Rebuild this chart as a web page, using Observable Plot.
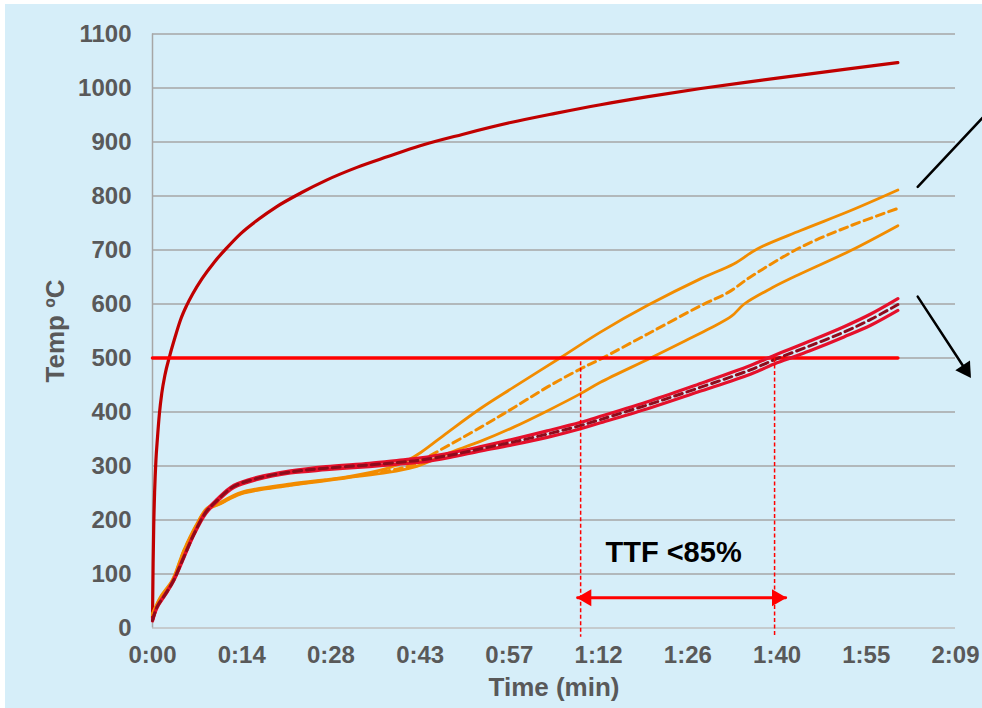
<!DOCTYPE html>
<html><head><meta charset="utf-8">
<script src="https://cdn.jsdelivr.net/npm/d3@7"></script>
<script src="https://cdn.jsdelivr.net/npm/@observablehq/plot@0.6"></script>
<style>
html,body{margin:0;padding:0;background:#fff;}
#chart{position:absolute;left:5px;top:4px;width:977px;height:704px;}
</style></head><body><div id="chart"></div>
<script>
// ---- axis ticks ----
const xTickValues = [0, 14.4, 28.8, 43.2, 57.6, 72, 86.4, 100.8, 115.2, 129.6]; // seconds
const xTickLabels = ["0:00","0:14","0:28","0:43","0:57","1:12","1:26","1:40","1:55","2:09"];
const yTicks = [0,100,200,300,400,500,600,700,800,900,1000,1100];

// ---- furnace curve ----
const tFurnace = [0,0.1,0.2,0.35,0.55,0.8,1.1,1.5,2,2.8,3.6,4.5,5.5,6.5,8,10,12,14.2,17,20,24,28,33,38,43.2,50,57.8,65,72.3,80,88.5,96,104.6,112,120.3];
const furnace  = [18,120,190,255,310,352,395,435,468,505,537,570,597,619,647,678,704,730,756,780,806,829,853,873,893,914,936,953,969,984,999,1011,1024,1035,1047];

// ---- orange series ----
const tOrangeA = [0,1.3,3.2,5.05,7.2,8.8,11,14.2,22.3,31.4,38,41.1,43.3,47.6,53,58.3,65.9,72.3,80,88.5,93.8,97.6,104.6,112.7,120.3];
const orangeA  = [27,58,89,144,194,222,233,251,267,280,296,310,325,362,407,446,501,548,598,647,674,702,736,773,811];
const tOrangeD = [0,1.3,3.2,5.05,7.2,8.8,11,14.2,22.3,31.4,38,42,45.4,53,58.3,63.7,69.1,72.3,80,88.5,93,96.5,104.6,112.7,120.3];
const orangeD  = [25,56,87,142,192,220,231,249,265,279,291,302,323,372,408,446,480,498,545,597,622,650,705,745,777];
const tOrangeB = [0,1.3,3.2,5.05,7.2,8.8,11,14.2,22.3,31.4,38,42.2,45,47.6,53,58.3,63.7,69.1,72.3,80.4,86,90,93.5,95.5,100,104.6,112.7,120.3];
const orangeB  = [24,55,86,141,191,219,230,248,264,278,288,298,310,323,346,372,402,434,455,500,532,555,578,600,630,656,699,745];

// ---- red series ----
const tRed    = [0,0.75,2.1,3.4,5.05,6.7,8.6,10.4,13.1,16.9,22.3,28,35,40,43.3,48,53,58,63.7,69.1,72.3,80.4,88,96.5,100.8,106,111.6,116,120.3];
const redUp   = [15,40,64,89,132,175,216,238,264,279,291,299,305,311,315,324,336,349,365,381,392,421,451,486,507,531,558,582,610];
const redMid  = [14,39,63,88,131,174,214,236,262,277,289,296,302,307,311,320,332,344,359,375,386,415,444,478,499,522,548,572,599];
const redLow  = [13,38,62,87,130,173,212,234,260,275,287,293,299,304,307,316,328,339,353,369,380,408,437,470,491,513,539,561,588];

// ---- threshold & annotations ----
const threshold = 500;
const thresholdSpan = [0, 120.3];
const ttfLines = [{t: 69.1, top: 493, bottom: -17}, {t: 100.4, top: 499, bottom: -17}];
const ttfArrowT = [68.6, 102.2];
const ttfArrowV = 56;
const ttfHeads = [{t: 70.03, v: 56, rot: -90}, {t: 100.77, v: 56, rot: 90}];
const ttfLabel = [{t: 84.1, v: 140, text: "TTF <85%"}];
const pointerLine = [{t: 123.5, v: 817}, {t: 135.3, v: 961}];
const pointerArrow = [{t: 123.5, v: 613.6}, {t: 131.2, v: 478.6}];
const pointerHead = [{t: 131.2, v: 478.6, rot: 146.7}];

const rows = (ts, vs) => ts.map((t, i) => ({t, v: vs[i]}));

const chart = Plot.plot({
  width: 977, height: 704,
  marginLeft: 147, marginRight: 27, marginTop: 29.5, marginBottom: 80.5,
  style: {background: "#D6EEF9", fontFamily: "'Liberation Sans', Arial, sans-serif", fontSize: "24px", fontWeight: "bold", color: "#595959"},
  x: {domain: [0, 129.6], ticks: xTickValues, tickFormat: d => xTickLabels[xTickValues.indexOf(d)], tickSize: 0, tickPadding: 18, label: null},
  y: {domain: [0, 1100], ticks: yTicks, tickFormat: d => String(d), tickSize: 0, tickPadding: 21, label: null},
  marks: [
    Plot.ruleY(yTicks.filter(d => d > 0), {stroke: "#A6A6A6", strokeWidth: 1.5}),
    Plot.ruleY([0], {stroke: "#BFBFBF", strokeWidth: 1.5}),
    Plot.ruleX([0], {y1: 0, y2: 1100, stroke: "#A6A6A6", strokeWidth: 1.5}),
    Plot.line(rows(tFurnace, furnace), {x: "t", y: "v", stroke: "#C00000", strokeWidth: 3.2, curve: "monotone-x"}),
    Plot.line(rows(tOrangeA, orangeA), {x: "t", y: "v", stroke: "#F28C00", strokeWidth: 2.8, curve: "catmull-rom"}),
    Plot.line(rows(tOrangeB, orangeB), {x: "t", y: "v", stroke: "#F28C00", strokeWidth: 2.8, curve: "catmull-rom"}),
    Plot.line(rows(tOrangeD, orangeD), {x: "t", y: "v", stroke: "#F28C00", strokeWidth: 3, strokeDasharray: "8,5", curve: "catmull-rom"}),
    Plot.line(rows(thresholdSpan, thresholdSpan.map(() => threshold)), {x: "t", y: "v", stroke: "#FF0000", strokeWidth: 3.5}),
    Plot.line(rows(tRed, redUp), {x: "t", y: "v", stroke: "#E5102B", strokeWidth: 3.2, curve: "catmull-rom"}),
    Plot.line(rows(tRed, redLow), {x: "t", y: "v", stroke: "#E5102B", strokeWidth: 3.2, curve: "catmull-rom"}),
    Plot.line(rows(tRed, redMid), {x: "t", y: "v", stroke: "#8E0B1C", strokeWidth: 3, strokeDasharray: "8,5", curve: "catmull-rom"}),
    Plot.ruleX(ttfLines, {x: "t", y1: "top", y2: "bottom", stroke: "#FF0000", strokeWidth: 1.5, strokeDasharray: "4,2.5"}),
    Plot.line(rows(ttfArrowT, ttfArrowT.map(() => ttfArrowV)), {x: "t", y: "v", stroke: "#FF0000", strokeWidth: 2.8}),
    Plot.dot(ttfHeads, {x: "t", y: "v", rotate: "rot", symbol: "triangle", r: 6.3, fill: "#FF0000", stroke: null}),
    Plot.text(ttfLabel, {x: "t", y: "v", text: "text", fontSize: 29, fontWeight: "bold", fill: "#000000"}),
    Plot.line(pointerLine, {x: "t", y: "v", stroke: "#000000", strokeWidth: 2.5}),
    Plot.line(pointerArrow, {x: "t", y: "v", stroke: "#000000", strokeWidth: 2.5}),
    Plot.dot(pointerHead, {x: "t", y: "v", rotate: "rot", symbol: "triangle", r: 6.5, fill: "#000000", stroke: null}),
    Plot.text(["Time (min)"], {frameAnchor: "bottom", dy: 67.5, fontSize: 26, fontWeight: "bold", fill: "#595959"}),
    Plot.text(["Temp ºC"], {frameAnchor: "left", textAnchor: "middle", rotate: -90, dx: -97, dy: 0, fontSize: 26, fontWeight: "bold", fill: "#595959"})
  ]
});
document.getElementById("chart").appendChild(chart);
</script></body></html>
